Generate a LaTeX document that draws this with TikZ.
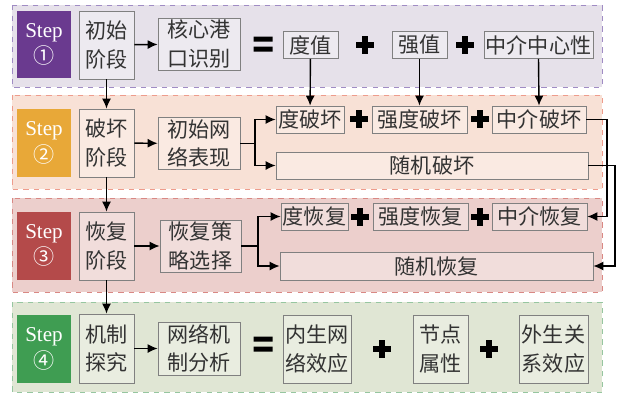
\documentclass[tikz,border=0pt]{standalone}
\usepackage{fontspec}
\setmainfont{Liberation Serif}
\newfontfamily\cjk{Noto Sans CJK SC}
\usetikzlibrary{arrows.meta}

\definecolor{fillA}{HTML}{E6E1EA}
\definecolor{lineA}{HTML}{A08CC4}
\definecolor{fillB}{HTML}{F8E1D6}
\definecolor{lineB}{HTML}{EE9C8C}
\definecolor{fillC}{HTML}{ECCFCC}
\definecolor{lineC}{HTML}{D98884}
\definecolor{fillD}{HTML}{E0E6D4}
\definecolor{lineD}{HTML}{96C6A0}
\definecolor{stepA}{HTML}{6A3A8F}
\definecolor{stepB}{HTML}{E8A838}
\definecolor{stepC}{HTML}{B44A4A}
\definecolor{stepD}{HTML}{3F9D52}
\definecolor{boxgray}{HTML}{808080}
\definecolor{txtgray}{HTML}{333333}

\tikzset{
  panel/.style={dashed, line width=0.4pt},
  stepbox/.style={text=white, minimum width=1.08cm, minimum height=1.36cm,
    align=center, inner sep=0pt, font=\fontsize{12}{15}\selectfont},
  box/.style={draw=boxgray, fill=white, fill opacity=0.3, text opacity=1,
    align=center, inner sep=0pt, text=txtgray,
    font=\cjk\fontsize{12}{16}\selectfont},
  arr/.style={-{Latex[length=2mm,width=1.8mm]}, thick},
  plussign/.pic={\draw[line width=3.6pt] (-9,0) -- (9,0) (0,-9) -- (0,9);},
  eqsign/.pic={\fill (-9.5,-7.5) rectangle (9.5,-2.5) (-9.5,2.5) rectangle (9.5,7.5);}
}

\begin{document}
\begin{tikzpicture}[x=0.02cm, y=-0.02cm]
    \useasboundingbox (0,0) rectangle (621,396);

    % panels
    \draw[panel, draw=lineA, fill=fillA] (12,5) rectangle (602,87);
    \draw[panel, draw=lineB, fill=fillB] (12,95) rectangle (602,189);
    \draw[panel, draw=lineC, fill=fillC] (12,198) rectangle (602,292);
    \draw[panel, draw=lineD, fill=fillD] (12,302) rectangle (602,392);

    % step 1
    \node[stepbox, fill=stepA] (s1) at (44,44.5){Step\\{\cjk ①}};
    \node[box, minimum width=1.1cm, minimum height=1.36cm] (init) at (106.5,45){初始\\阶段};
    \node[box, minimum width=1.64cm, minimum height=1.04cm] (core) at (199,44){核心港\\口识别};
        \pic at (263,44){eqsign};
    \node[box, minimum width=1.1cm, minimum height=0.54cm] (deg) at (310.5,45){度值};
        \pic at (365,45){plussign};
    \node[box, minimum width=1.1cm, minimum height=0.54cm] (str) at (419.5,45){强值};
        \pic at (465,45){plussign};
    \node[box, minimum width=2.18cm, minimum height=0.54cm] (btw) at (538.5,45){中介中心性};

    % step 2
    \node[stepbox, fill=stepB] (s2) at (44,143){Step\\{\cjk ②}};
    \node[box, minimum width=1.1cm, minimum height=1.36cm] (dmg) at (106.5,143){破坏\\阶段};
    \node[box, minimum width=1.64cm, minimum height=1.04cm] (net) at (199,143.5){初始网\\络表现};
    \node[box, minimum width=1.36cm, minimum height=0.54cm] (dd) at (310,119.5){度破坏};
        \pic at (359,119){plussign};
    \node[box, minimum width=1.9cm, minimum height=0.54cm] (sd) at (419.5,119.5){强度破坏};
        \pic at (480,119){plussign};
    \node[box, minimum width=1.88cm, minimum height=0.54cm] (bd) at (539,119.5){中介破坏};
    \node[box, minimum width=6.24cm, minimum height=0.54cm] (rd) at (432,165.5){随机破坏};

    % step 3
    \node[stepbox, fill=stepC] (s3) at (44,245.5){Step\\{\cjk ③}};
    \node[box, minimum width=1.1cm, minimum height=1.36cm] (rec) at (106.5,246){恢复\\阶段};
    \node[box, minimum width=1.62cm, minimum height=1.04cm] (pol) at (200.5,246){恢复策\\略选择};
    \node[box, minimum width=1.34cm, minimum height=0.54cm] (dr) at (314.5,216.5){度恢复};
        \pic at (360,217){plussign};
    \node[box, minimum width=1.9cm, minimum height=0.54cm] (sr) at (420.5,216.5){强度恢复};
        \pic at (480,217){plussign};
    \node[box, minimum width=1.9cm, minimum height=0.54cm] (br) at (539.5,216.5){中介恢复};
    \node[box, minimum width=6.26cm, minimum height=0.56cm] (rr) at (436.5,266){随机恢复};

    % step 4
    \node[stepbox, fill=stepD] (s4) at (44,349){Step\\{\cjk ④}};
    \node[box, minimum width=1.1cm, minimum height=1.38cm] (mech) at (106.5,348.5){机制\\探究};
    \node[box, minimum width=1.64cm, minimum height=1.06cm] (ana) at (199,348.5){网络机\\制分析};
        \pic at (263,344){eqsign};
    \node[box, minimum width=1.36cm, minimum height=1.36cm] (endo) at (317,349){内生网\\络效应};
        \pic at (382,349){plussign};
    \node[box, minimum width=1.1cm, minimum height=1.36cm] (attr) at (440.5,349){节点\\属性};
        \pic at (489,349){plussign};
    \node[box, minimum width=1.38cm, minimum height=1.36cm] (exo) at (553.5,349){外生关\\系效应};

    % arrows
    \draw[arr] (init) -- (dmg);
    \draw[arr] (dmg) -- (rec);
    \draw[arr] (rec) -- (mech);
    \draw[arr] (init) -- (core);
    \draw[arr] (dmg) -- (net);
    \draw[arr] (rec) -- (pol);
    \draw[arr] (mech) -- (ana);
    \draw[arr] (deg) -- (dd);
    \draw[arr] (str) -- (sd);
    \draw[arr] (btw.south) -- (bd.north);

    \coordinate (fk1) at (255,143.5);
    \coordinate (fk2) at (258,246);
    \draw[thick] (net.east) -- (fk1);
    \draw[arr] (fk1) |- (dd.west);
    \draw[arr] (fk1) |- (rd.west);
    \draw[thick] (pol.east) -- (fk2);
    \draw[arr] (fk2) |- (dr.west);
    \draw[arr] (fk2) |- (rr.west);

    \coordinate (rt1) at (607,0);
    \coordinate (rt2) at (615,0);
    \draw[arr] (bd.east) -- (bd.east -| rt1) |- (br.east);
    \draw[arr] (rd.east) -- (rd.east -| rt2) |- (rr.east);

\end{tikzpicture}
\end{document}
